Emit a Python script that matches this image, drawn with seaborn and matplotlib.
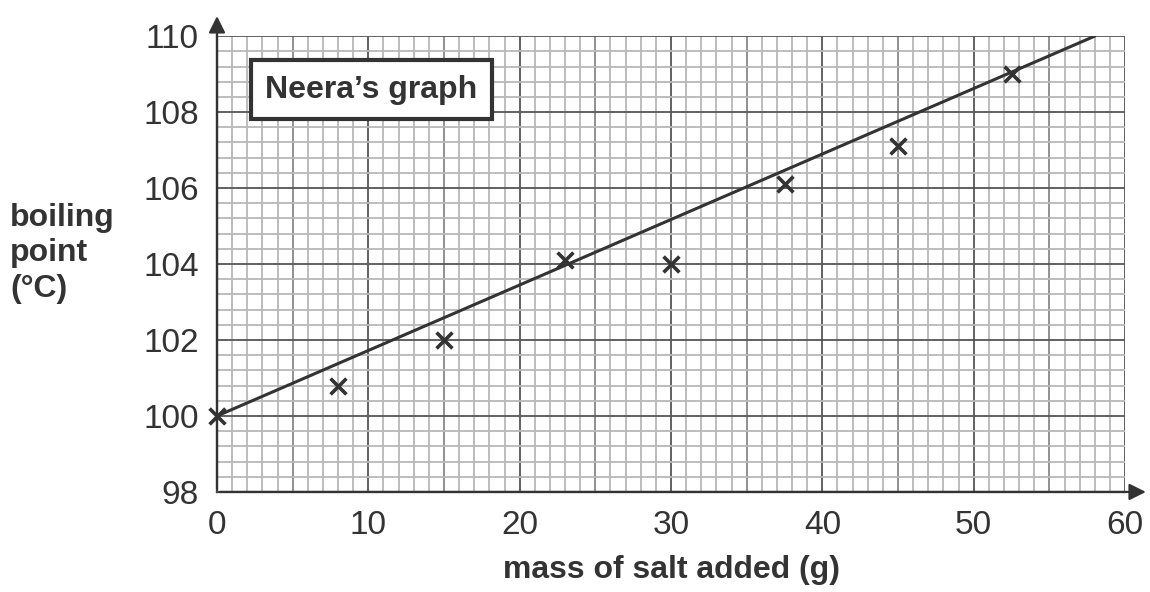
import numpy as np
import pandas as pd
import seaborn as sns
import matplotlib.pyplot as plt

mass_g = [0, 8, 15, 23, 30, 37.5, 45, 52.5]
boiling_c = [100, 100.8, 102, 104.1, 104, 106.1, 107.1, 109]

# line of best fit as drawn (end points)
fit_mass = [0, 58]
fit_boil = [100, 110]

x_ticks = [0, 10, 20, 30, 40, 50, 60]
y_ticks = [98, 100, 102, 104, 106, 108, 110]

points = pd.DataFrame({"mass": mass_g, "bp": boiling_c})
fit = pd.DataFrame({"mass": fit_mass, "bp": fit_boil})

sns.set_style("white")
plt.rcParams['font.family'] = ['Liberation Sans', 'DejaVu Sans']

ink = '#333333'
fig = plt.figure(figsize=(11.5, 5.92), dpi=100)
ax = fig.add_axes([0.1887, 0.169, 0.7896, 0.770])

ax.set_xlim(0, 60)
ax.set_ylim(98, 110)

# graph paper
for v in np.arange(0, 61, 1):
    if v % 10 == 0:
        c = '#555555'
    elif v % 5 == 0:
        c = '#888888'
    else:
        c = '#b8b8b8'
    ax.axvline(v, color=c, lw=1.3, zorder=0)
for i, v in enumerate(np.arange(98, 110.01, 0.4)):
    c = '#555555' if i % 5 == 0 else '#b8b8b8'
    ax.axhline(v, color=c, lw=1.3, zorder=0)

sns.lineplot(data=fit, x="mass", y="bp", ax=ax, color=ink, lw=2.2, zorder=3)
sns.scatterplot(data=points, x="mass", y="bp", ax=ax, marker='x', s=130,
                color=ink, linewidth=2.6, zorder=4, clip_on=False)

for s in ['top', 'right']:
    ax.spines[s].set_visible(False)
for s in ['left', 'bottom']:
    ax.spines[s].set_color('#444444')
    ax.spines[s].set_linewidth(1.6)

# axis arrows
ax.annotate('', xy=(1.026, 0), xytext=(0, 0), xycoords='axes fraction',
            arrowprops=dict(arrowstyle='-|>', color=ink, lw=1.6, mutation_scale=25),
            annotation_clip=False)
ax.annotate('', xy=(0, 1.05), xytext=(0, 0), xycoords='axes fraction',
            arrowprops=dict(arrowstyle='-|>', color=ink, lw=1.6, mutation_scale=25),
            annotation_clip=False)

ax.set_xticks(x_ticks)
ax.set_yticks(y_ticks)
ax.tick_params(axis='both', which='major', direction='out', length=10, width=1.4,
               color='#777777', labelsize=24, labelcolor=ink, pad=3)

ax.set_xlabel('mass of salt added (g)', fontsize=23, fontweight='bold', color=ink,
              labelpad=10)
ax.set_ylabel('')
fig.text(0.009, 0.572, 'boiling\npoint\n(°C)', fontsize=23, fontweight='bold',
         color=ink, ha='left', va='center', linespacing=1.25)

ax.text(0.053, 0.915, 'Neera\u2019s graph', transform=ax.transAxes, fontsize=23,
        fontweight='bold', color=ink, ha='left', va='top', zorder=6,
        bbox=dict(boxstyle='square,pad=0.45', fc='white', ec=ink, lw=3))

fig.savefig('out.png', dpi=100)
